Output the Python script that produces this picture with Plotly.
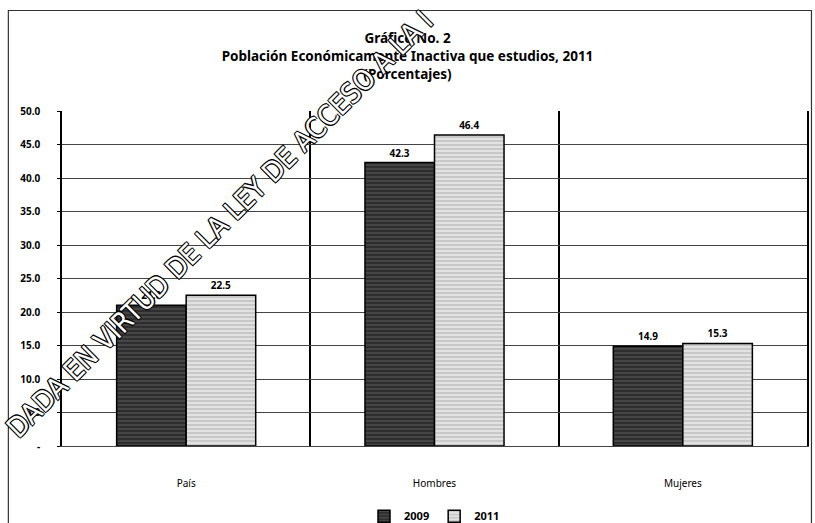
import plotly.graph_objects as go

# data
categorias = ["País", "Hombres", "Mujeres"]
valores_2009 = [21.0, 42.3, 14.9]
valores_2011 = [22.5, 46.4, 15.3]
ticks_y = [0, 5, 10, 15, 20, 25, 30, 35, 40, 45, 50]
ticks_y_txt = ["-", "5.0", "10.0", "15.0", "20.0", "25.0", "30.0", "35.0", "40.0", "45.0", "50.0"]

fuente = "Noto Sans"

fig = go.Figure()

fig.add_trace(go.Bar(
    x=categorias, y=valores_2009, name="2009",
    marker=dict(color="#3a3a3a", line=dict(color="black", width=1.5),
                pattern=dict(shape="-", fgcolor="#8a8a8a", bgcolor="#2e2e2e",
                             size=4, solidity=0.25)),
    text=[f"{v:.1f}" for v in valores_2009], textposition="outside",
    textfont=dict(size=10, color="black", family=fuente, weight="bold"),
    cliponaxis=False,
))
fig.add_trace(go.Bar(
    x=categorias, y=valores_2011, name="2011",
    marker=dict(color="#c8c8c8", line=dict(color="black", width=1.5),
                pattern=dict(shape="-", fgcolor="#8c8c8c", bgcolor="#e2e2e2",
                             size=4, solidity=0.3)),
    text=[f"{v:.1f}" for v in valores_2011], textposition="outside",
    textfont=dict(size=10, color="black", family=fuente, weight="bold"),
    cliponaxis=False,
))

fig.update_layout(
    width=815, height=523,
    margin=dict(l=62, r=6, t=111, b=77),
    paper_bgcolor="white", plot_bgcolor="white",
    barmode="group", bargap=0.44, bargroupgap=0,
    font=dict(family=fuente, size=10, color="black"),
    title=dict(
        text="<b>Gráfico No. 2<br>Población Económicamente Inactiva que estudios, 2011<br>(Porcentajes)</b>",
        x=0.5, xanchor="center", y=0.917, yanchor="top",
        font=dict(size=13.5, family=fuente, color="black"),
    ),
    legend=dict(orientation="h", x=0.5, xanchor="center",
                yref="container", y=0.013, yanchor="middle",
                font=dict(size=11, family=fuente, weight="bold"),
                itemwidth=30, traceorder="normal"),
    showlegend=True,
)

fig.update_yaxes(
    range=[0, 50], tickvals=ticks_y, ticktext=ticks_y_txt,
    showgrid=True, gridcolor="#444", gridwidth=1,
    showline=True, linecolor="black", linewidth=1.5, mirror=True,
    ticks="outside", ticklen=3, tickcolor="black",
    tickfont=dict(size=10, family=fuente, weight="bold"),
    ticklabelstandoff=15, zeroline=False,
)
fig.update_xaxes(
    tickson="boundaries", showgrid=True, gridcolor="black", gridwidth=1.5,
    showline=True, linecolor="#444", linewidth=1, ticks="",
    tickfont=dict(size=10, family=fuente),
    ticklabelstandoff=28,
)

# marco exterior del grafico escaneado
fig.add_shape(type="rect", xref="paper", yref="paper",
              x0=-0.072, x1=1.006, y0=-0.3, y1=1.30,
              line=dict(color="#333", width=1.2), layer="below")

# marca de agua diagonal
fig.add_annotation(
    text="DADA EN VIRTUD DE LA LEY DE ACCESO A LA I",
    xref="paper", yref="paper", x=0.212, y=0.66,
    xanchor="center", yanchor="middle", showarrow=False,
    textangle=-45,
    font=dict(size=28, family="DejaVu Sans Condensed", color="white",
              shadow="1px 1px 0 #000, -1px -1px 0 #000, 1px -1px 0 #000, -1px 1px 0 #000"),
)

# quitar el margen por defecto del body para que la figura ocupe la ventana
fig.write_html("out.html", config={"displayModeBar": False},
               post_script="document.body.style.margin='0';")
